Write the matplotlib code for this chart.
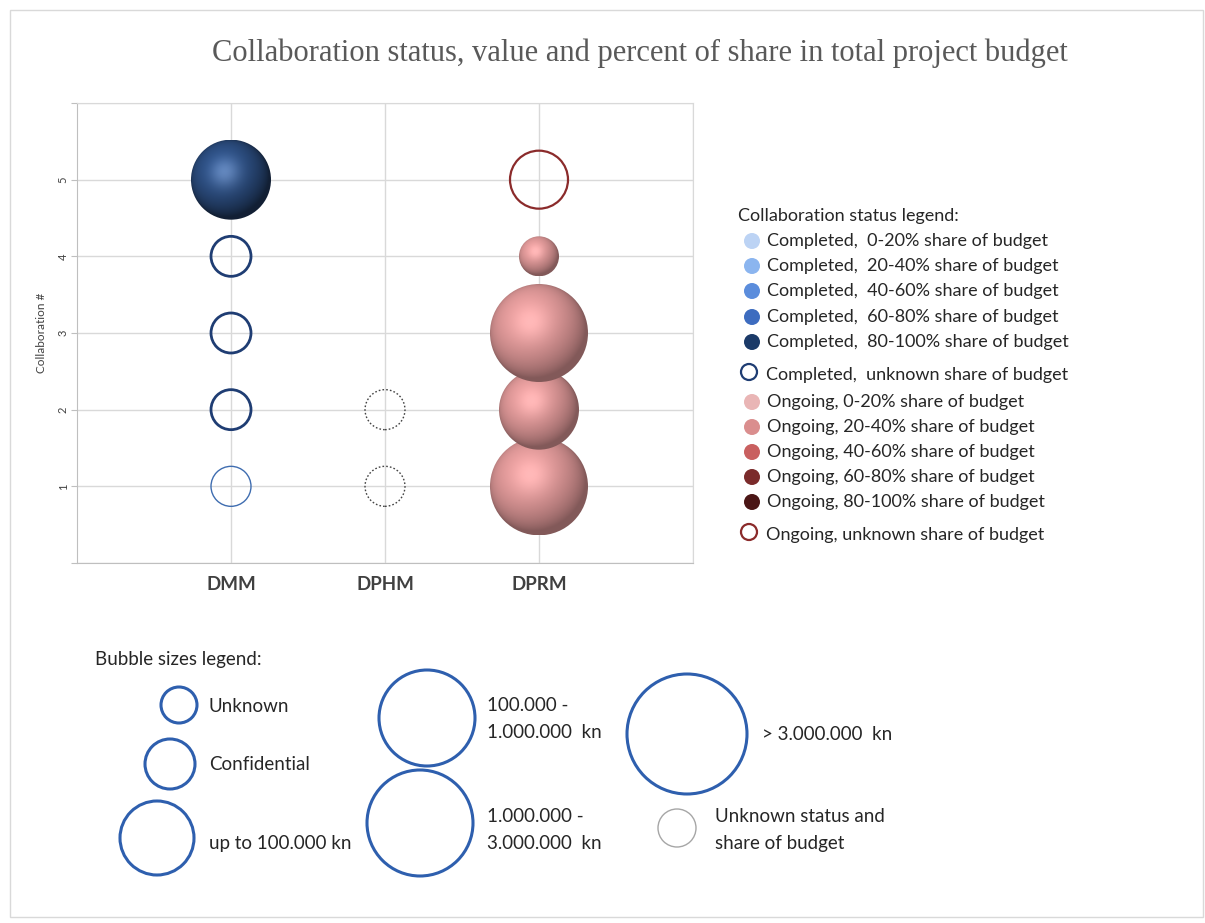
import matplotlib
matplotlib.use('Agg')
import matplotlib.pyplot as plt
from matplotlib.patches import Ellipse, Circle, Rectangle
import numpy as np

plt.rcParams['font.family'] = ['Lato', 'DejaVu Sans']

# ---- data ----
categories = ["DMM", "DPHM", "DPRM"]

dmm_ids = [1, 2, 3, 4, 5]
dmm_size = [1, 1, 1, 1, 3]          # budget class of each collaboration
dmm_status = ["C?l", "C?", "C?", "C?", "C80"]

dphm_ids = [1, 2]
dphm_size = [1, 1]
dphm_status = ["U", "U"]

dprm_ids = [1, 2, 3, 4, 5]
dprm_size = [4, 3, 4, 1, 2]
dprm_status = ["O0", "O0", "O0", "O0", "O?"]

status_labels = ["Completed,  0-20% share of budget",
                 "Completed,  20-40% share of budget",
                 "Completed,  40-60% share of budget",
                 "Completed,  60-80% share of budget",
                 "Completed,  80-100% share of budget",
                 "Completed,  unknown share of budget",
                 "Ongoing, 0-20% share of budget",
                 "Ongoing, 20-40% share of budget",
                 "Ongoing, 40-60% share of budget",
                 "Ongoing, 60-80% share of budget",
                 "Ongoing, 80-100% share of budget",
                 "Ongoing, unknown share of budget"]

size_labels = ["Unknown", "Confidential", "up to 100.000 kn",
               "100.000 -\n1.000.000  kn", "1.000.000 -\n3.000.000  kn",
               "> 3.000.000  kn", "Unknown status and\nshare of budget"]

# ---- styles ----
status_colors = ["#bcd3f4", "#8bb5ef", "#5b8ddc", "#3d6cbf", "#1b3a68", "#1f3d73",
                 "#e9b5b5", "#da8e8e", "#c96060", "#7b2b2b", "#4b1616", "#8b2b2b"]
style = {
    "C80": ("sphere", "#2b4c7e", 0.42, 0.2),
    "O0": ("sphere", "#d39090", 0.62, 0.1),
    "C?": ("ring", "#1f3d73", 2.0, "-"),
    "C?l": ("ring", "#3f6db0", 1.0, "-"),
    "O?": ("ring", "#8b2b2b", 1.6, "-"),
    "U": ("ring", "#444444", 1.0, (0, (1.2, 1.5))),
}
radius_px = {1: 20, 2: 29, 3: 40, 4: 49}

W, H = 1205, 923
fig = plt.figure(figsize=(W / 100, H / 100), dpi=100)

# overlay for decorations in pixel coordinates
ov = fig.add_axes([0, 0, 1, 1])
ov.set_xlim(0, W)
ov.set_ylim(H, 0)
ov.axis('off')
ov.add_patch(Rectangle((10, 10), W - 12, H - 16, fill=False, ec="#d9d9d9", lw=1))

ax_l, ax_b, ax_w, ax_h = 77 / W, 1 - 563 / H, 616 / W, 460 / H
ax = fig.add_axes([ax_l, ax_b, ax_w, ax_h])
xmax, ymax = 4, 6
dx = xmax / (ax_w * W)
dy = ymax / (ax_h * H)


def sphere_rgba(base, amb, spec, n=200):
    base = np.array(matplotlib.colors.to_rgb(base))
    yy, xx = np.mgrid[1:-1:n * 1j, -1:1:n * 1j]
    z = np.sqrt(np.clip(1 - xx ** 2 - yy ** 2, 0, 1))
    L = np.array([-0.3, 0.4, 0.87])
    L /= np.linalg.norm(L)
    d = np.clip(xx * L[0] + yy * L[1] + z * L[2], 0, 1)
    Hv = L + np.array([0, 0, 1.0])
    Hv /= np.linalg.norm(Hv)
    s = np.clip(xx * Hv[0] + yy * Hv[1] + z * Hv[2], 0, 1) ** 14
    rgb = base * (amb + (1.12 - amb) * d)[..., None] + spec * s[..., None]
    rgb = np.clip(rgb, 0, 1)
    return np.dstack([rgb, np.ones((n, n))])


def draw_series(xpos, ids, sizes, stats):
    for cid, sz, st in zip(ids, sizes, stats):
        r = radius_px[sz]
        w, h = 2 * r * dx, 2 * r * dy
        sty = style[st]
        if sty[0] == "sphere":
            e = Ellipse((xpos, cid), w, h, fc="none", ec="none")
            ax.add_patch(e)
            im = ax.imshow(sphere_rgba(sty[1], sty[2], sty[3]),
                           extent=[xpos - w / 2, xpos + w / 2, cid - h / 2, cid + h / 2],
                           origin='upper', aspect='auto', zorder=3, interpolation='bilinear')
            im.set_clip_path(e)
        else:
            ax.add_patch(Ellipse((xpos, cid), w, h, fc="none", ec=sty[1], lw=sty[2],
                                 ls=sty[3], zorder=3))


draw_series(1, dmm_ids, dmm_size, dmm_status)
draw_series(2, dphm_ids, dphm_size, dphm_status)
draw_series(3, dprm_ids, dprm_size, dprm_status)
ax.set_xlim(0, xmax)
ax.set_ylim(0, ymax)

ax.set_xticks(range(1, len(categories) + 1))
ax.set_xticklabels(categories, fontsize=13.5, fontweight='bold', color="#404040")
ax.tick_params(axis='x', length=0, pad=9)
ax.set_yticks(range(0, 7))
ax.set_yticklabels([""] + [str(i) for i in range(1, 6)] + [""], rotation=90, fontsize=8,
                   color="#404040", va='center')
ax.tick_params(axis='y', length=4, color="#bfbfbf", pad=2)
ax.set_ylabel("Collaboration #", fontsize=8.5, color="#404040", labelpad=8)
ax.set_xticks([4], minor=True)
ax.grid(True, which='both', color="#d9d9d9", lw=1)
ax.set_axisbelow(True)
for sp in ['top', 'right']:
    ax.spines[sp].set_color("#d9d9d9")
for sp in ['left', 'bottom']:
    ax.spines[sp].set_color("#bfbfbf")
ax.tick_params(which='minor', length=0)

fig.text(640 / W, 1 - 53 / H, "Collaboration status, value and percent of share in total project budget",
         ha='center', va='center', fontsize=22, family='Liberation Serif', color="#595959")

# status legend
txt_col = "#262626"
ov.text(738, 216, "Collaboration status legend:", fontsize=13, va='center', color=txt_col)
row_y = [241, 266, 291, 317, 342, 375, 402, 427, 452, 477, 502, 535]
for i, (lab, col) in enumerate(zip(status_labels, status_colors)):
    yv = row_y[i]
    if "unknown" in lab:
        ov.add_patch(Circle((749, yv - 3), 8, fc="white", ec=col, lw=1.6))
        ov.text(766, yv, lab, fontsize=13, va='center', color=txt_col)
    else:
        ov.add_patch(Circle((752, yv), 8, fc=col, ec="none"))
        ov.text(767, yv, lab, fontsize=13, va='center', color=txt_col)

# bubble sizes legend
ov.text(95, 660, "Bubble sizes legend:", fontsize=13.5, va='center', color=txt_col)
leg_circ = [(179, 705, 18), (170, 764, 25), (157, 838, 37), (427, 718, 48),
            (420, 823, 53), (687, 734, 60), (677, 828, 19)]
leg_text = [(209, 707), (209, 765), (209, 843), (487, 719), (487, 830), (762, 734), (715, 830)]
for i, lab in enumerate(size_labels):
    cx, cy, r = leg_circ[i]
    if i == len(size_labels) - 1:
        ov.add_patch(Circle((cx, cy), r, fc="none", ec="#a6a6a6", lw=1))
    else:
        ov.add_patch(Circle((cx, cy), r, fc="none", ec="#2e5fae", lw=2.2))
    tx, ty = leg_text[i]
    lines = lab.split("\n")
    gap = 27
    y0 = ty - gap * (len(lines) - 1) / 2
    for k, ln in enumerate(lines):
        ov.text(tx, y0 + k * gap, ln, fontsize=13.5, va='center', color=txt_col)

fig.savefig("out.png", dpi=100)
